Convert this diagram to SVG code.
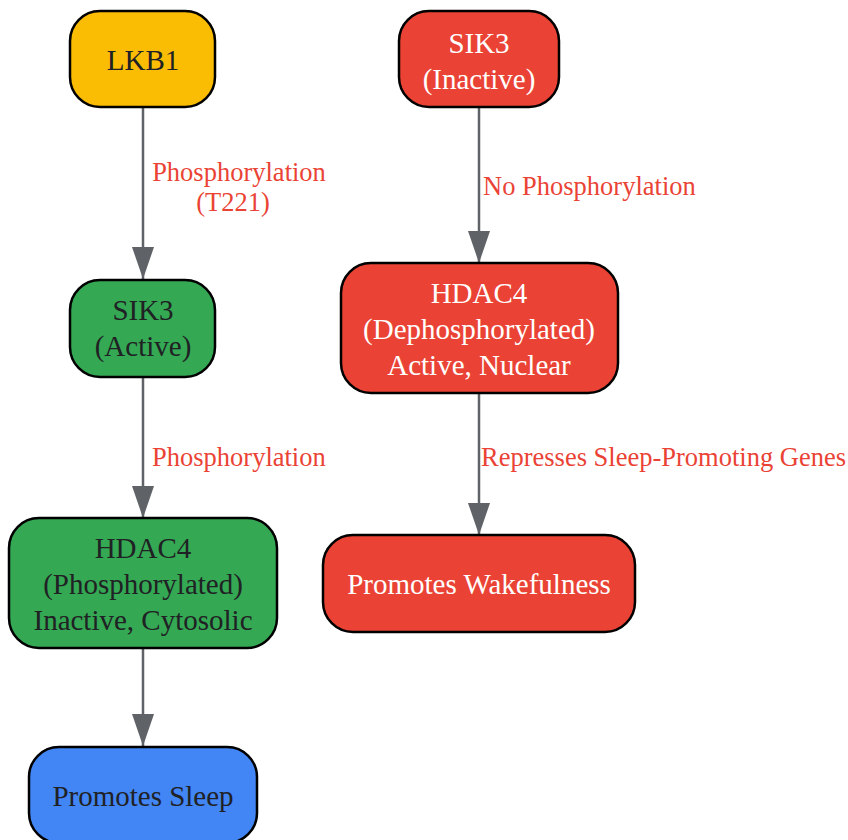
<svg xmlns="http://www.w3.org/2000/svg" width="848" height="840" viewBox="0 0 848 840">
<defs>
<marker id="arr" markerWidth="32" markerHeight="22" refX="32" refY="11" orient="auto" markerUnits="userSpaceOnUse" viewBox="0 0 32 22">
<path d="M0,0 L32,11 L0,22 Z" fill="#5f6368"/>
</marker>
<style>
.node rect{stroke:#000;stroke-width:2.5}
.node text{font-family:"Liberation Serif","Times New Roman",serif;font-size:29px;text-anchor:middle}
.dark{fill:#202124}
.light{fill:#ffffff}
.edge{stroke:#5f6368;stroke-width:2.5;fill:none;marker-end:url(#arr)}
.elabel{font-family:"Liberation Serif","Times New Roman",serif;font-size:26.5px;fill:#ea4335}
</style>
</defs>
<rect width="848" height="840" fill="#ffffff"/>
<g id="connectors">
<path class="edge" d="M143,107 V279"/>
<path class="edge" d="M143,377 V518"/>
<path class="edge" d="M143,648 V746"/>
<path class="edge" d="M479,107 V263"/>
<path class="edge" d="M479,393 V535"/>
<text class="elabel" x="239" y="181" text-anchor="middle">Phosphorylation</text>
<text class="elabel" x="233" y="211" text-anchor="middle">(T221)</text>
<text class="elabel" x="152" y="466">Phosphorylation</text>
<text class="elabel" x="483" y="195">No Phosphorylation</text>
<text class="elabel" x="481" y="466">Represses Sleep-Promoting Genes</text>
</g>
<g id="lkb1" class="node">
<rect x="70" y="11" width="145" height="96" rx="30" fill="#fbbc04"/>
<text class="dark" x="143" y="70">LKB1</text>
</g>
<g id="sik3_active" class="node">
<rect x="70" y="280" width="145" height="97" rx="30" fill="#34a853"/>
<text class="dark" x="143" y="320">SIK3</text>
<text class="dark" x="143" y="356">(Active)</text>
</g>
<g id="hdac4_phos" class="node">
<rect x="9" y="518" width="268" height="130" rx="30" fill="#34a853"/>
<text class="dark" x="143" y="558">HDAC4</text>
<text class="dark" x="143" y="594">(Phosphorylated)</text>
<text class="dark" x="143" y="630">Inactive, Cytosolic</text>
</g>
<g id="sleep" class="node">
<rect x="29" y="747" width="228" height="96" rx="30" fill="#4285f4"/>
<text class="dark" x="143" y="806">Promotes Sleep</text>
</g>
<g id="sik3_inactive" class="node">
<rect x="399" y="11" width="160" height="96" rx="30" fill="#ea4335"/>
<text class="light" x="479" y="53">SIK3</text>
<text class="light" x="479" y="89">(Inactive)</text>
</g>
<g id="hdac4_dephos" class="node">
<rect x="341" y="263" width="277" height="130" rx="30" fill="#ea4335"/>
<text class="light" x="479" y="303">HDAC4</text>
<text class="light" x="479" y="339">(Dephosphorylated)</text>
<text class="light" x="479" y="375">Active, Nuclear</text>
</g>
<g id="wake" class="node">
<rect x="323" y="535" width="312" height="97" rx="30" fill="#ea4335"/>
<text class="light" x="479" y="594">Promotes Wakefulness</text>
</g>
</svg>
